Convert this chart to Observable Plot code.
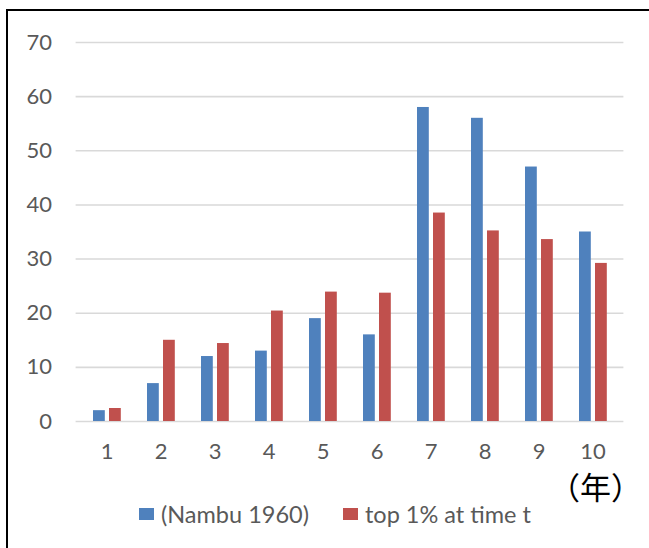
<!DOCTYPE html>
<html>
<head>
<meta charset="utf-8">
<script src="https://cdn.jsdelivr.net/npm/d3@7"></script>
<script src="https://cdn.jsdelivr.net/npm/@observablehq/plot@0.6"></script>
<style>
  html, body { margin: 0; padding: 0; background: #fff; overflow: hidden; }
  #wrap { position: relative; width: 649px; height: 548px; overflow: hidden; background: #fff; }
  #frame { position: absolute; left: 6px; top: 9px; width: 700px; height: 600px; border: 2px solid #000; box-sizing: border-box; }
  #chart { position: absolute; left: 0; top: 0; }
  #unit { position: absolute; left: 549px; top: 470px; font-family: "Noto Sans CJK JP", sans-serif; font-size: 31px; line-height: 1; color: #000; white-space: nowrap; }
  #legend { position: absolute; left: 139px; top: 500px; font-family: Lato, sans-serif; font-size: 23.5px; color: #595959; display: flex; align-items: center; white-space: nowrap; }
  .sw { display: inline-block; width: 15px; height: 12px; margin-right: 7px; }
  .item { display: flex; align-items: center; margin-right: 34px; }
</style>
</head>
<body>
<div id="wrap">
  <div id="frame"></div>
  <div id="chart"></div>
  <div id="unit">（年）</div>
  <div id="legend"></div>
</div>
<script>
const years = ["1","2","3","4","5","6","7","8","9","10"];
const nambu = [2, 7, 12, 13, 19, 16, 58, 56, 47, 35];
const top1 = [2.4, 15, 14.4, 20.4, 23.9, 23.7, 38.5, 35.2, 33.6, 29.2];
const yTicks = [0, 10, 20, 30, 40, 50, 60, 70];
const seriesNames = ["(Nambu 1960)", "top 1% at time t"];
const seriesColors = ["#4f81bd", "#c0504d"];

const dataA = years.map((y, i) => ({year: y, value: nambu[i]}));
const dataB = years.map((y, i) => ({year: y, value: top1[i]}));

const chart = Plot.plot({
  width: 649,
  height: 470,
  marginTop: 42,
  marginBottom: 49,
  marginLeft: 75.6,
  marginRight: 25.6,
  style: {fontFamily: "Lato, sans-serif", fontSize: "22px", color: "#595959", background: "transparent", overflow: "visible"},
  x: {type: "band", domain: years, paddingInner: 0.5, paddingOuter: 0.25, label: null},
  y: {domain: [0, 70], label: null},
  marks: [
    Plot.ruleY(yTicks, {stroke: "#d9d9d9", strokeWidth: 1.6}),
    Plot.barY(dataA, {x: "year", y: "value", fill: seriesColors[0], insetLeft: 0, insetRight: 15.2}),
    Plot.barY(dataB, {x: "year", y: "value", fill: seriesColors[1], insetLeft: 15.2, insetRight: 0, dx: 0.8}),
    Plot.axisY({ticks: yTicks, tickSize: 0, tickPadding: 24, label: null}),
    Plot.axisX({tickSize: 0, tickPadding: 22, label: null})
  ]
});
document.getElementById("chart").appendChild(chart);

const legend = document.getElementById("legend");
seriesNames.forEach((name, i) => {
  const item = document.createElement("div");
  item.className = "item";
  const sw = document.createElement("span");
  sw.className = "sw";
  sw.style.background = seriesColors[i];
  const label = document.createElement("span");
  label.textContent = name;
  item.appendChild(sw);
  item.appendChild(label);
  legend.appendChild(item);
});
</script>
</body>
</html>
